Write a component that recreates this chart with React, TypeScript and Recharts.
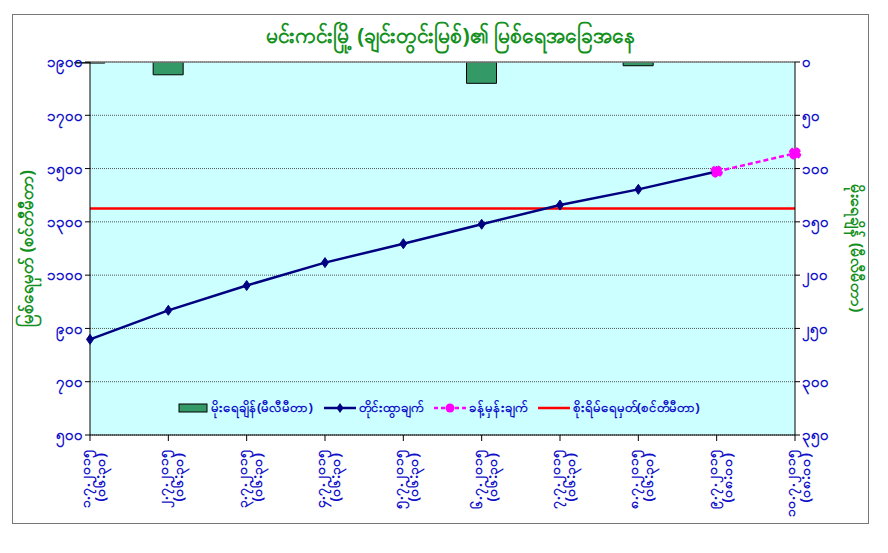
import React from "react";
import {
  ComposedChart,
  Bar,
  Line,
  XAxis,
  YAxis,
  CartesianGrid,
  ReferenceLine,
} from "recharts";

const dates = [
  "၁.၇.၂၀၁၅",
  "၂.၇.၂၀၁၅",
  "၃.၇.၂၀၁၅",
  "၄.၇.၂၀၁၅",
  "၅.၇.၂၀၁၅",
  "၆.၇.၂၀၁၅",
  "၇.၇.၂၀၁၅",
  "၈.၇.၂၀၁၅",
  "၉.၇.၂၀၁၅",
  "၁၀.၇.၂၀၁၅",
];
const times = [
  "(၀၆:၃၀)",
  "(၀၆:၃၀)",
  "(၀၆:၃၀)",
  "(၀၆:၃၀)",
  "(၀၆:၃၀)",
  "(၀၆:၃၀)",
  "(၀၆:၃၀)",
  "(၀၆:၃၀)",
  "(၀၈:၀၀)",
  "(၀၈:၀၀)",
];
const rainfall = [1, 12, 0, 0, 0, 20, 0, 3.5, null, null];
const observed = [859, 968, 1061, 1147, 1218, 1291, 1363, 1422, 1489, null];
const forecast = [null, null, null, null, null, null, null, null, 1489, 1557];
const danger = [1350, 1350, 1350, 1350, 1350, 1350, 1350, 1350, 1350, 1350];

const levelTicks = [500, 700, 900, 1100, 1300, 1500, 1700, 1900];
const rainTicks = [0, 50, 100, 150, 200, 250, 300, 350];

const myDigits = ["၀", "၁", "၂", "၃", "၄", "၅", "၆", "၇", "၈", "၉"];
const toMy = (n: number) =>
  String(n)
    .split("")
    .map((c) => myDigits[Number(c)] ?? c)
    .join("");

const data = dates.map((d, i) => ({
  idx: i,
  rain: rainfall[i],
  level: observed[i],
  forecast: forecast[i],
  danger: danger[i],
}));

const FONT = "'Noto Sans', 'DejaVu Sans', sans-serif";
const BLUE = "#1010c8";
const GREEN = "#14901e";

const DateTick = (props: any) => {
  const { x, y, payload } = props;
  const i = payload.value;
  return (
    <g transform={`translate(${x},${y})`}>
      <text
        transform="rotate(-90)"
        fill={BLUE}
        fontSize={14}
        fontWeight="bold"
        fontFamily={FONT}
      >
        <tspan x={-6} y={0} textAnchor="end">
          {dates[i]}
        </tspan>
        <tspan x={-10} y={15} textAnchor="end">
          {times[i]}
        </tspan>
      </text>
    </g>
  );
};

const Diamond = (props: any) => {
  const { cx, cy, value } = props;
  if (value == null || cx == null || cy == null) return null;
  return (
    <polygon
      points={`${cx},${cy - 5} ${cx + 3.5},${cy} ${cx},${cy + 5} ${cx - 3.5},${cy}`}
      fill="#000080"
      stroke="#000080"
    />
  );
};

const legendItems = [
  { name: "မိုးရေချိန်(မီလီမီတာ)", kind: "bar" },
  { name: "တိုင်းထွာချက်", kind: "level" },
  { name: "ခန့်မှန်းချက်", kind: "forecast" },
  { name: "စိုးရိမ်ရေမှတ်(စင်တီမီတာ)", kind: "danger" },
];

const LegendIcon = ({ kind }: { kind: string }) => {
  if (kind === "bar")
    return (
      <svg width={30} height={12}>
        <rect x={1} y={2} width={28} height={8} fill="#339966" stroke="#000" />
      </svg>
    );
  if (kind === "level")
    return (
      <svg width={32} height={12}>
        <line x1={0} y1={6} x2={32} y2={6} stroke="#000080" strokeWidth={2.5} />
        <polygon points="16,1 19.5,6 16,11 12.5,6" fill="#000080" />
      </svg>
    );
  if (kind === "forecast")
    return (
      <svg width={32} height={12}>
        <line
          x1={0}
          y1={6}
          x2={32}
          y2={6}
          stroke="#ff00ff"
          strokeWidth={2.5}
          strokeDasharray="4 3"
        />
        <circle cx={16} cy={6} r={4.5} fill="#ff00ff" />
      </svg>
    );
  return (
    <svg width={32} height={12}>
      <line x1={0} y1={6} x2={32} y2={6} stroke="#ff0000" strokeWidth={2.5} />
    </svg>
  );
};

export default function App() {
  return (
    <div
      style={{
        position: "absolute",
        left: 12,
        top: 14,
        width: 855,
        height: 508,
        border: "1px solid #777",
        background: "#fff",
        fontFamily: FONT,
      }}
    >
      <div
        style={{
          position: "absolute",
          top: 6,
          left: 10,
          width: 855,
          textAlign: "center",
          color: GREEN,
          fontWeight: "bold",
          fontSize: 21,
        }}
      >
        မင်းကင်းမြို့ (ချင်းတွင်းမြစ်)၏ မြစ်ရေအခြေအနေ
      </div>
      <ComposedChart
        width={855}
        height={508}
        data={data}
        margin={{ top: 47, right: 0, bottom: 0, left: 0 }}
      >
        <CartesianGrid
          yAxisId="level"
          vertical={false}
          stroke="#555"
          strokeDasharray="1 1"
          fill="#ccffff"
          fillOpacity={1}
        />
        <XAxis
          dataKey="idx"
          type="number"
          domain={[0, 9]}
          ticks={[0, 1, 2, 3, 4, 5, 6, 7, 8, 9]}
          height={88}
          axisLine={{ stroke: "#000" }}
          tickLine={{ stroke: "#000" }}
          tickSize={6}
          tick={<DateTick />}
          interval={0}
        />
        <YAxis
          yAxisId="level"
          domain={[500, 1900]}
          ticks={levelTicks}
          width={77}
          axisLine={{ stroke: "#000" }}
          tickLine={{ stroke: "#000" }}
          tickSize={5}
          tickFormatter={toMy}
          tick={{ fill: BLUE, fontSize: 15, fontWeight: "bold", fontFamily: FONT }}
          label={{
            value: "မြစ်ရေမှတ် (စင်တီမီတာ)",
            angle: -90,
            position: "insideLeft",
            offset: 14,
            style: {
              textAnchor: "middle",
              fill: GREEN,
              fontSize: 17,
              fontWeight: "bold",
              fontFamily: FONT,
            },
          }}
        />
        <YAxis
          yAxisId="rain"
          orientation="right"
          reversed
          allowDataOverflow
          domain={[0, 350]}
          ticks={rainTicks}
          width={73}
          axisLine={{ stroke: "#000" }}
          tickLine={{ stroke: "#000" }}
          tickSize={5}
          tickFormatter={toMy}
          tick={{ fill: BLUE, fontSize: 15, fontWeight: "bold", fontFamily: FONT }}
          label={{
            value: "မိုးရေချိန် (မီလီမီတာ)",
            angle: 90,
            position: "insideRight",
            offset: 11,
            style: {
              textAnchor: "middle",
              fill: GREEN,
              fontSize: 16,
              fontWeight: "bold",
              fontFamily: FONT,
            },
          }}
        />
        <ReferenceLine yAxisId="level" y={1900} stroke="#808080" strokeWidth={1.5} />
        <Bar
          yAxisId="rain"
          dataKey="rain"
          barSize={30}
          fill="#339966"
          stroke="#000"
          strokeWidth={1}
          isAnimationActive={false}
        />
        <Line
          yAxisId="level"
          dataKey="danger"
          stroke="#ff0000"
          strokeWidth={2.5}
          dot={false}
          isAnimationActive={false}
        />
        <Line
          yAxisId="level"
          dataKey="level"
          stroke="#000080"
          strokeWidth={2.5}
          dot={<Diamond />}
          isAnimationActive={false}
        />
        <Line
          yAxisId="level"
          dataKey="forecast"
          stroke="#ff00ff"
          strokeWidth={2.5}
          strokeDasharray="5 3"
          dot={{ r: 5, fill: "#ff00ff", stroke: "#ff00ff" }}
          isAnimationActive={false}
        />
      </ComposedChart>
      <div
        style={{
          position: "absolute",
          top: 383,
          left: 165,
          display: "flex",
          alignItems: "center",
          gap: 11,
          color: BLUE,
          fontWeight: "bold",
          fontSize: 13,
        }}
      >
        {legendItems.map((it) => (
          <div key={it.name} style={{ display: "flex", alignItems: "center", gap: 3 }}>
            <LegendIcon kind={it.kind} />
            <span>{it.name}</span>
          </div>
        ))}
      </div>
    </div>
  );
}
